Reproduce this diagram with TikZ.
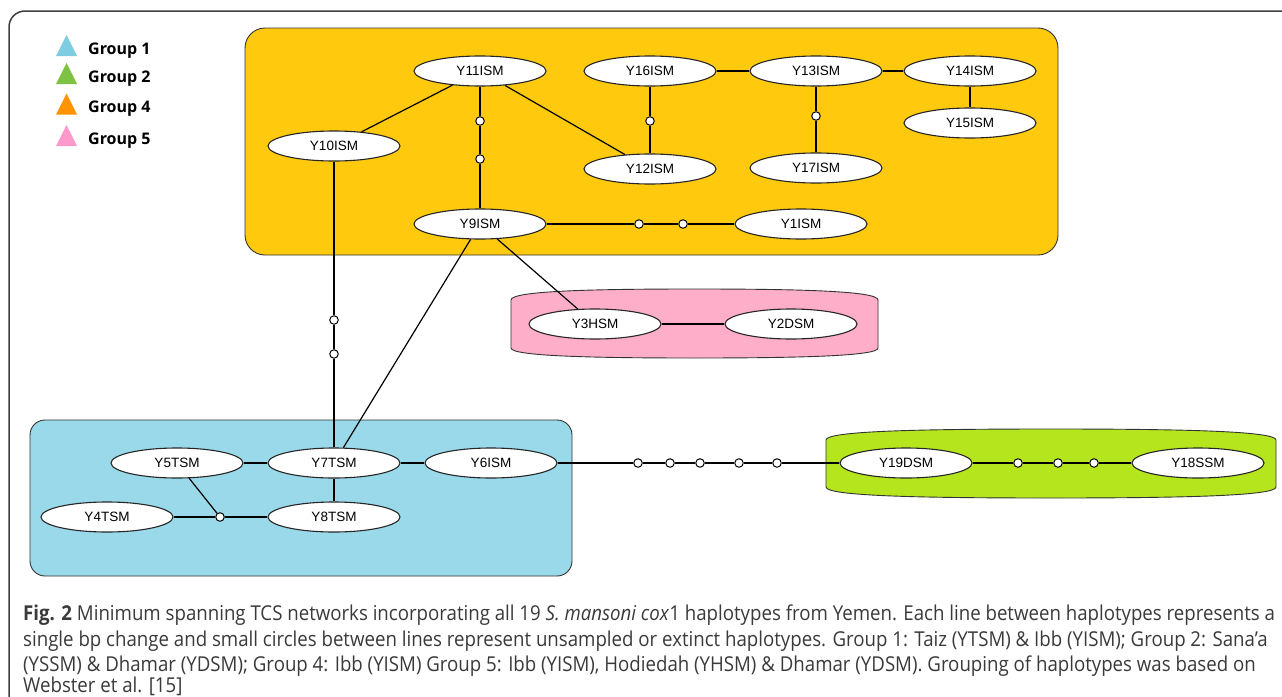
\documentclass[tikz,border=0pt]{standalone}
\usepackage{fontspec}
\setmainfont{Liberation Sans}
\newfontfamily\legfont{Open Sans}
\newfontfamily\capfont[FakeStretch=0.91]{Open Sans}
\usetikzlibrary{shapes.geometric}
\definecolor{grpyellow}{HTML}{FFC90E}
\definecolor{grppink}{HTML}{FFAEC9}
\definecolor{grpblue}{HTML}{99D9EA}
\definecolor{grpgreen}{HTML}{B5E61D}
\definecolor{legblue}{HTML}{7ECCE0}
\definecolor{leggreen}{HTML}{7DC242}
\definecolor{legorange}{HTML}{FF9400}
\definecolor{legpink}{HTML}{FF99CC}
\definecolor{capgray}{HTML}{3A3A3A}

\begin{document}
\begin{tikzpicture}[
      x=1pt, y=-1pt,
      hap/.style={
        ellipse, draw=black!85, fill=white, line width=1.1pt,
        minimum width=132pt, minimum height=30pt, inner sep=0pt,
        font=\fontsize{13.5}{16}\selectfont
      },
      mv/.style={circle, draw=black, fill=white, line width=1pt, minimum size=8.5pt, inner sep=0pt},
      edge/.style={draw=black, line width=1.2pt},
      grpbox/.style={draw=black!80, line width=0.9pt}
    ]
    \useasboundingbox (0,0) rectangle (1282,696);
    \fill[white] (0,0) rectangle (1282,696);

    % outer frame
    \draw[black!75, line width=1.5pt, rounded corners=16pt] (9,700) -- (9,11) -- (1290,11);

    % legend
    \foreach \g/\c/\y in {1/legblue/56, 2/leggreen/84, 4/legorange/114.5, 5/legpink/146}{
      \fill[\c] (56,\y) -- (77,\y) -- (66.5,\y-21) -- cycle;
      \node[anchor=base west, inner sep=0pt, font=\legfont\bfseries\fontsize{16}{18}\selectfont] (leg\g) at (88,\y-2) {Group \g};
    }

    % group areas
    \draw[grpbox, fill=grpyellow, rounded corners=20pt] (245,28) rectangle (1058,255);
    \draw[grpbox, fill=grpblue, rounded corners=15pt] (30,420) rectangle (572,576);
    \draw[grpbox, fill=grppink] (511,300) .. controls (511,291) and (590,289) .. (694.5,289)
      .. controls (800,289) and (878,291) .. (878,300) -- (878,348)
      .. controls (878,356) and (800,358) .. (694.5,358)
      .. controls (590,358) and (511,356) .. (511,348) -- cycle;
    \draw[grpbox, fill=grpgreen] (826,440) .. controls (826,431) and (920,429) .. (1051,429)
      .. controls (1180,429) and (1276,431) .. (1276,440) -- (1276,487)
      .. controls (1276,496) and (1180,498) .. (1051,498)
      .. controls (920,498) and (826,496) .. (826,487) -- cycle;

    % haplotypes
    \foreach \n/\x/\y/\t in {y11/480/71/Y11ISM, y16/650/71/Y16ISM, y13/816/71/Y13ISM,
        y14/970/71/Y14ISM, y15/970/123/Y15ISM, y10/334/146/Y10ISM, y12/650/169/Y12ISM,
        y17/816/168/Y17ISM, y9/480/224/Y9ISM, y1/801/224/Y1ISM, y3/595/324/Y3HSM,
        y2/791/324/Y2DSM, y5/177/463/Y5TSM, y7/334/463/Y7TSM, y6/491/463/Y6ISM,
        y4/107/517/Y4TSM, y8/334/517/Y8TSM, y19/906/463/Y19DSM, y18/1198/463/Y18SSM}
      \node[hap] (\n) at (\x,\y) {\t};

    % missing haplotypes
    \foreach \n/\x/\y in {m1/480/121, m2/480/159, m3/650/121, m4/816/116, m5/639/224,
        m6/683/224, m7/334/320, m8/334/354, m9/220/517, m10/638/463, m11/670/463,
        m12/700/463, m13/739/463, m14/777/463, m15/1018/463, m16/1058/463, m17/1094/463}
      \node[mv] (\n) at (\x,\y) {};

    % links
    \foreach \a/\b in {y11/y10, y11/y12, y11/m1, m1/m2, m2/y9, y16/m3, m3/y12, y16/y13,
        y13/y14, y14/y15, y13/m4, m4/y17, y9/m5, m5/m6, m6/y1, y9/y3, y3/y2, y9/y7,
        y10/m7, m7/m8, m8/y7, y5/y7, y7/y6, y7/y8, y5/m9, y4/m9, m9/y8, y6/m10,
        m10/m11, m11/m12, m12/m13, m13/m14, m14/y19, y19/m15, m15/m16, m16/m17, m17/y18}
      \draw[edge] (\a) -- (\b);

    % caption
    \begin{scope}[every node/.style={anchor=base west, inner sep=0pt, text=capgray,
        font=\capfont\fontsize{20.5}{24}\selectfont}]
      \node (cap1) at (23,620) {\textbf{Fig. 2} Minimum spanning TCS networks incorporating all 19 \textit{S. mansoni cox}1 haplotypes from Yemen. Each line between haplotypes represents a};
      \node (cap2) at (23,646) {single bp change and small circles between lines represent unsampled or extinct haplotypes. Group 1: Taiz (YTSM) \& Ibb (YISM); Group 2: Sana’a};
      \node (cap3) at (23,671) {(YSSM) \& Dhamar (YDSM); Group 4: Ibb (YISM) Group 5: Ibb (YISM), Hodiedah (YHSM) \& Dhamar (YDSM). Grouping of haplotypes was based on};
      \node (cap4) at (23,692.5) {Webster et al. [15]};
    \end{scope}
  \end{tikzpicture}
\end{document}
